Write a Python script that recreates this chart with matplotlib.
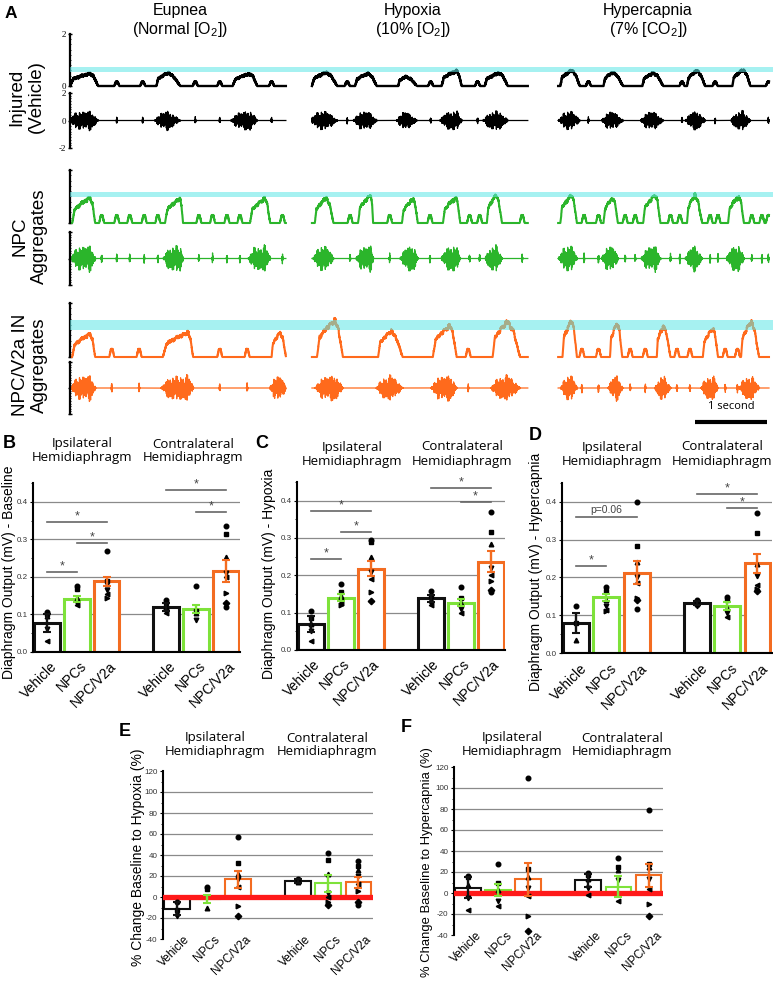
import numpy as np
import matplotlib.pyplot as plt
from matplotlib.ticker import MultipleLocator, FormatStrFormatter, NullFormatter
from matplotlib.transforms import ScaledTranslation, blended_transform_factory

plt.rcParams['font.family'] = ['Liberation Sans', 'DejaVu Sans']
plt.rcParams['mathtext.fontset'] = 'custom'
plt.rcParams['mathtext.rm'] = 'Liberation Sans'
plt.rcParams['mathtext.it'] = 'Liberation Sans:italic'

W, H = 773, 982

# ---------------- panel A: recorded traces ----------------
CONDITIONS = ['Eupnea\n(Normal [O$_2$])', 'Hypoxia\n(10% [O$_2$])', 'Hypercapnia\n(7% [CO$_2$])']
GROUPS = ['Injured\n(Vehicle)', 'NPC\nAggregates', 'NPC/V2a IN\nAggregates']
SEG_START = [0.0, 3.36, 6.78]      # seconds
SEG_LEN = [3.0, 3.0, 2.93]
TRACE_COLORS = ['#000000', '#2bb52b', '#ff6a1c']

# bursts per condition: (onset, peak, offset, integrated amplitude)
VEH_BURSTS = [
    [(0.0, 0.28, 0.39, 0.48), (1.2, 1.36, 1.53, 0.5), (2.26, 2.5, 2.6, 0.47)],
    [(0.0, 0.2, 0.35, 0.52), (0.6, 0.78, 0.9, 0.48), (1.2, 1.3, 1.46, 0.36),
     (1.8, 2.01, 2.08, 0.58), (2.4, 2.6, 2.72, 0.5)],
    [(0.03, 0.19, 0.3, 0.6), (0.63, 0.76, 0.9, 0.52), (1.17, 1.32, 1.46, 0.5),
     (1.79, 1.93, 2.04, 0.58), (2.42, 2.57, 2.67, 0.62)],
]
VEH_BLIPS = [[0.65, 1.01, 1.74, 2.08, 2.8], [0.49, 1.65, 2.3], [0.42, 1.72, 2.18, 2.92]]

NPC_BURSTS = [
    [(0.03, 0.28, 0.35, 0.95), (1.32, 1.53, 1.57, 0.92), (2.5, 2.71, 2.78, 0.92)],
    [(0.04, 0.2, 0.3, 0.95), (0.64, 0.82, 0.85, 1.05), (1.25, 1.41, 1.47, 0.9),
     (1.82, 2.0, 2.06, 0.95), (2.43, 2.56, 2.64, 1.05)],
    [(0.03, 0.19, 0.26, 1.05), (0.63, 0.76, 0.83, 0.95), (1.18, 1.35, 1.42, 1.05),
     (1.79, 1.9, 2.0, 1.05), (2.36, 2.51, 2.58, 1.0)],
]
NPC_BLIPS = [[0.44, 0.65, 0.83, 1.03, 1.22, 1.79, 1.98, 2.18, 2.36, 2.95],
             [0.53, 1.08, 1.64, 2.19, 2.33, 2.92],
             [0.36, 0.56, 0.93, 1.07, 1.56, 1.69, 2.11, 2.22, 2.69, 2.83, 2.92]]

V2A_BURSTS = [
    [(0.03, 0.28, 0.35, 0.85), (1.29, 1.64, 1.71, 0.9), (2.8, 2.92, 3.0, 0.9)],
    [(0.07, 0.32, 0.43, 1.35), (0.92, 1.1, 1.26, 0.95), (1.68, 1.92, 2.01, 1.15),
     (2.51, 2.72, 2.89, 1.3)],
    [(0.06, 0.19, 0.26, 1.35), (0.72, 0.82, 0.89, 1.25), (1.37, 1.46, 1.56, 1.15),
     (2.01, 2.15, 2.22, 1.05), (2.54, 2.68, 2.79, 1.3)],
]
V2A_BLIPS = [[0.58, 0.96, 2.08, 2.46], [2.17], [0.33, 0.56, 1.0, 1.21, 1.65, 1.83, 2.32, 2.49]]

BURSTS = [VEH_BURSTS, NPC_BURSTS, V2A_BURSTS]
BLIPS = [VEH_BLIPS, NPC_BLIPS, V2A_BLIPS]
BAND = [(0.54, 0.73), (0.98, 1.17), (1.0, 1.37)]   # cyan reference band
RAW_AMP = [0.75, 1.05, 1.05]
BLIP_INT = [0.15, 0.28, 0.28]

# fixed jagged textures for the recorded-signal look
TEXTURE = np.array([1.0, -0.55, 0.8, -0.9, 0.35, -0.7, 0.95, -0.4, 0.65, -1.0,
                    0.5, -0.85, 0.9, -0.3, 0.75, -0.6, 0.45, -0.95])
EDGE = np.array([1.0, 0.55, 0.8, 0.4, 0.95, 0.65, 0.5, 1.0, 0.7, 0.45, 0.9, 0.6, 0.75, 0.35, 0.85])
SLOW = np.array([0.2, -0.6, 0.9, -0.3, 0.5, -1.0, 0.1, 0.7, -0.5, 0.35, -0.8, 0.6])

# ---------------- panels B-F: bar data ----------------
BAR_LABELS = ['Vehicle', 'NPCs', 'NPC/V2a']
BAR_POS = [0, 1, 2, 4, 5, 6]
BAR_COLORS = ['#111111', '#7ee23a', '#f36c21']
MARKERS = ['o', 's', '^', 'v', '<', '>', 'D', 'o']

B_MEANS = [0.078, 0.140, 0.188, 0.120, 0.115, 0.215]
B_SEMS = [0.024, 0.008, 0.012, 0.010, 0.011, 0.029]
B_POINTS = [[0.107, 0.101, 0.095, 0.06, 0.03],
            [0.175, 0.168, 0.145, 0.13, 0.125],
            [0.268, 0.19, 0.18, 0.165, 0.155, 0.145],
            [0.138, 0.13, 0.12, 0.11, 0.105],
            [0.175, 0.11, 0.105, 0.085],
            [0.335, 0.315, 0.253, 0.21, 0.2, 0.158, 0.13, 0.12]]
B_SIG = [(0, 1, 0.213, '*'), (0, 2, 0.347, '*'), (1, 2, 0.29, '*'),
         (4, 6, 0.432, '*'), (5, 6, 0.373, '*')]

C_MEANS = [0.070, 0.140, 0.218, 0.138, 0.127, 0.237]
C_SEMS = [0.022, 0.010, 0.020, 0.010, 0.010, 0.028]
C_POINTS = [[0.105, 0.085, 0.07, 0.05, 0.025],
            [0.178, 0.155, 0.145, 0.13, 0.125, 0.12],
            [0.295, 0.29, 0.25, 0.21, 0.19, 0.155, 0.13],
            [0.158, 0.145, 0.135, 0.125, 0.12],
            [0.17, 0.14, 0.125, 0.11, 0.1],
            [0.37, 0.315, 0.285, 0.22, 0.2, 0.185, 0.16, 0.155]]
C_SIG = [(0, 1, 0.244, '*'), (0, 2, 0.373, '*'), (1, 2, 0.317, '*'),
         (4, 6, 0.435, '*'), (5, 6, 0.397, '*')]

D_MEANS = [0.080, 0.147, 0.213, 0.133, 0.125, 0.237]
D_SEMS = [0.026, 0.010, 0.030, 0.005, 0.010, 0.025]
D_POINTS = [[0.125, 0.08, 0.035],
            [0.175, 0.165, 0.14, 0.125, 0.115, 0.11],
            [0.4, 0.282, 0.24, 0.2, 0.185, 0.145, 0.14, 0.117],
            [0.14, 0.135, 0.13, 0.125],
            [0.148, 0.14, 0.12, 0.105, 0.095],
            [0.37, 0.318, 0.235, 0.205, 0.18, 0.17, 0.165]]
D_SIG = [(0, 1, 0.231, '*'), (0, 2, 0.36, 'p=0.06'), (4, 6, 0.42, '*'), (5, 6, 0.385, '*')]

E_MEANS = [-11, -2, 17, 15, 13, 14]
E_SEMS = [6, 4, 8, 2, 8, 5]
E_POINTS = [[-5, -12, -15, -18],
            [10, 8, -10],
            [57, 32, 22, 17, 10, -9, -18],
            [17, 15, 14],
            [42, 35, 22, 4, 0, -5, -8],
            [34, 30, 26, 20, 12, 6, -5, -8]]

F_MEANS = [5, 3, 13, 12, 6, 17]
F_SEMS = [10, 6, 16, 6, 10, 11]
F_POINTS = [[16, 15, 8, -5, -16],
            [28, 10, 3, -8, -12],
            [110, 23, 15, 5, -3, -22, -36],
            [19, 17, 13, 5, -2],
            [33, 25, 22, 12, -8],
            [79, 28, 25, 13, 4, -10, -22]]

fig = plt.figure(figsize=(W / 100, H / 100), dpi=100)


def px_axes(x0, y0, x1, y1):
    return fig.add_axes([x0 / W, 1 - y1 / H, (x1 - x0) / W, (y1 - y0) / H])


def ftext(x, y, s, **kw):
    return fig.text(x / W, 1 - y / H, s, **kw)


def held(pattern, n, hold):
    return np.resize(np.repeat(pattern, hold), n)


def integrated(t, bursts, blips, blip_amp):
    y = np.zeros_like(t)
    for on, pk, off, a in bursts:
        r = pk - on
        f = off - pk
        xs = [on, on + 0.15 * r, on + 0.55 * r, pk, pk + 0.45 * f, off]
        ys = [0, 0.55 * a, 0.8 * a, a, 0.75 * a, 0]
        y = np.maximum(y, np.interp(t, xs, ys, left=0, right=0))
    y = y * (1 + 0.07 * held(SLOW, t.size, 11))
    for b in blips:
        y = np.maximum(y, np.interp(t, [b - 0.035, b - 0.012, b + 0.012, b + 0.035],
                                    [0, blip_amp, blip_amp, 0], left=0, right=0))
    ripple = np.resize(TEXTURE, t.size) * 0.025 * (y > 0.05)
    return y + ripple


def raw(t, bursts, blips, amp):
    env = np.zeros_like(t)
    for on, pk, off, a in bursts:
        shape = np.interp(t, [on - 0.03, on + 0.2 * (off - on), pk, off + 0.01],
                          [0, 0.8 * amp, amp, 0], left=0, right=0)
        env = np.maximum(env, shape)
    env = env * held(EDGE, t.size, 9)
    for b in blips:
        env = np.maximum(env, np.interp(t, [b - 0.01, b, b + 0.01], [0, 0.4 * amp, 0], left=0, right=0))
    return env * np.resize(TEXTURE, t.size)


# ---------------- panel A ----------------
INT_BOX = [(34, 86), (170, 223), (303, 357)]   # pixel rows of y=2 and y=0
RAW_BOX = [(93, 148), (232, 285), (362, 414)]
XMAX = (W - 70) / 72.0

for g in range(3):
    top, zero = INT_BOX[g]
    ppu = (zero - top) / 2.0
    ax_i = px_axes(70, top, W, zero + 0.15 * ppu)
    ax_i.set_ylim(-0.15, 2)
    rt, rb = RAW_BOX[g]
    ax_r = px_axes(70, rt, W, rb)
    ax_r.set_ylim(-2, 2)
    for k in range(3):
        t = np.arange(0, SEG_LEN[k], 0.002)
        x = SEG_START[k] + t
        ax_i.plot(x, integrated(t, BURSTS[g][k], BLIPS[g][k], BLIP_INT[g]),
                  color=TRACE_COLORS[g], lw=1.7 if g == 0 else 1.5, zorder=2)
        ax_r.plot(x, raw(t, BURSTS[g][k], BLIPS[g][k], RAW_AMP[g]),
                  color=TRACE_COLORS[g], lw=0.9, zorder=2)
    ax_i.axhspan(BAND[g][0], BAND[g][1], color='#5ee6e6', alpha=0.55, lw=0, zorder=3)
    for ax, lo, hi in [(ax_i, 0, 2), (ax_r, -2, 2)]:
        ax.set_xlim(0, XMAX)
        for s in ['top', 'right', 'bottom']:
            ax.spines[s].set_visible(False)
        ax.spines['left'].set_bounds(lo, hi)
        ax.spines['left'].set_linewidth(1.6)
        ax.set_xticks([])
        ax.set_yticks([lo, 0, hi] if lo < 0 else [lo, hi])
        ax.yaxis.set_minor_locator(MultipleLocator(0.2))
        ax.tick_params(axis='y', which='major', length=3, width=1, direction='inout', pad=1)
        ax.tick_params(axis='y', which='minor', length=2, width=0.6, direction='inout')
        if g == 0:
            ax.set_yticklabels([str(v) for v in ax.get_yticks().astype(int)],
                               fontsize=6.5, family='Liberation Serif')
        else:
            ax.yaxis.set_major_formatter(NullFormatter())
        ax.patch.set_visible(False)
    if g == 2:
        tr = blended_transform_factory(ax_r.transData, ax_r.transAxes)
        bar_x0 = (695 - 70) / 72.0
        ax_r.plot([bar_x0, bar_x0 + 1], [-0.15, -0.15], color='k', lw=3, transform=tr,
                  clip_on=False, solid_capstyle='butt')
        ax_r.text(bar_x0 + 0.5, 0.03, '1 second', transform=tr, ha='center', va='bottom',
                  fontsize=8, family='Open Sans')

ftext(5, 14, 'A', fontsize=12.5, fontweight='bold', va='center')
for cx, s in zip([180, 413, 648], CONDITIONS):
    ftext(cx, 21, s, fontsize=11.5, ha='center', va='center')
for cy, cx, s in zip([97, 236, 365], [27, 30, 30], GROUPS):
    ftext(cx, cy, s, fontsize=13.5, rotation=90, ha='center', va='center')


# ---------------- bar panels ----------------
def bar_panel(box, means, sems, points, ylim, edge_lw, label_fs, label_off, ytick_step, ytick_fmt,
              grid, bottom_spine, ylabel, ylabel_xy, ylabel_fs):
    x0, y0, x1, y1 = box
    ax = px_axes(x0, y0, x1, y1)
    ax.set_xlim(-0.47, 6.48)
    ax.set_ylim(*ylim)
    for gv in grid:
        ax.axhline(gv, color='#8a8a8a', lw=0.9, zorder=1)
    for i, (p, m, s, pts) in enumerate(zip(BAR_POS, means, sems, points)):
        c = BAR_COLORS[i % 3]
        ax.bar(p, m, width=0.86, facecolor='white', edgecolor=c, linewidth=edge_lw, zorder=2)
        for j, v in enumerate(pts):
            ax.plot(p, v, marker=MARKERS[j % len(MARKERS)], color='k', ms=3.3, ls='none', zorder=4)
        ax.errorbar(p, m, yerr=s, fmt='none', ecolor=c, elinewidth=1.7, capsize=2.8,
                    capthick=1.5, zorder=5)
    for s in ['top', 'right']:
        ax.spines[s].set_visible(False)
    ax.spines['left'].set_linewidth(1.5)
    if bottom_spine:
        ax.spines['bottom'].set_linewidth(1.5)
    else:
        ax.spines['bottom'].set_visible(False)
    ax.set_xticks([])
    ax.yaxis.set_major_locator(MultipleLocator(ytick_step))
    ax.yaxis.set_minor_locator(MultipleLocator(ytick_step / 2))
    ax.yaxis.set_major_formatter(FormatStrFormatter(ytick_fmt))
    ax.tick_params(axis='y', which='major', labelsize=5.8, length=2.5, width=0.8, pad=1.5,
                   labelcolor='#333333')
    ax.tick_params(axis='y', which='minor', length=1.5, width=0.6)
    dx, dy = label_off
    off = ax.transData + ScaledTranslation(0, dy / 100, fig.dpi_scale_trans)
    for i, p in enumerate(BAR_POS):
        ax.text(p + dx, ylim[0], BAR_LABELS[i % 3], transform=off, rotation=45,
                rotation_mode='anchor', ha='right', va='center', fontsize=label_fs)
    ftext(ylabel_xy[0], ylabel_xy[1], ylabel, rotation=90, ha='center', va='center',
          fontsize=ylabel_fs)
    return ax


def sig_lines(ax, sigs):
    for a, b, y, s in sigs:
        ax.plot([a, b], [y, y], color='#666666', lw=1.2, zorder=3)
        fs = 9 if s == '*' else 7.5
        ax.annotate(s, ((a + b) / 2, y), xytext=(0, 4 if s == '*' else 5), textcoords='offset points',
                    ha='center', va='center', fontsize=fs, color='#444444')


def titles(x_ipsi, x_contra, y, fs=9.5):
    ftext(x_ipsi, y, 'Ipsilateral\nHemidiaphragm', ha='center', va='center', fontsize=fs,
          family='Open Sans', linespacing=1.1)
    ftext(x_contra, y, 'Contralateral\nHemidiaphragm', ha='center', va='center', fontsize=fs,
          family='Open Sans', linespacing=1.1)


grid_bcd = [0.1, 0.2, 0.3, 0.4]
ax_b = bar_panel((33, 483, 240, 652), B_MEANS, B_SEMS, B_POINTS, (0, 0.45), 2.2, 10, (0.25, -12),
                 0.1, '%.1f', grid_bcd, True, 'Diaphragm Output (mV) - Baseline', (9, 572), 10)
sig_lines(ax_b, B_SIG)
ax_c = bar_panel((297, 482, 505, 650), C_MEANS, C_SEMS, C_POINTS, (0, 0.45), 2.2, 10, (0.22, -12),
                 0.1, '%.1f', grid_bcd, True, 'Diaphragm Output (mV) - Hypoxia', (269, 574), 10)
sig_lines(ax_c, C_SIG)
ax_d = bar_panel((562, 483, 772, 653), D_MEANS, D_SEMS, D_POINTS, (0, 0.45), 2.2, 10, (0.28, -13),
                 0.1, '%.1f', grid_bcd, True, 'Diaphragm Output (mV) - Hypercapnia', (536, 572), 10)
sig_lines(ax_d, D_SIG)

grid_ef = [-20, 20, 40, 60, 80, 100]
ax_e = bar_panel((163, 771, 373, 939), E_MEANS, E_SEMS, E_POINTS, (-40, 120), 1.5, 8.6, (0.36, 1),
                 20, '%d', grid_ef, False, '% Change Baseline to Hypoxia (%)', (138, 857), 10)
ax_e.axhline(0, color='#ff1a1a', lw=3.8, zorder=3)
ax_f = bar_panel((454, 767, 663, 935), F_MEANS, F_SEMS, F_POINTS, (-40, 120), 1.5, 8.6, (0.38, 1),
                 20, '%d', grid_ef, False, '% Change Baseline to Hypercapnia (%)', (427, 862), 9.4)
ax_f.axhline(0, color='#ff1a1a', lw=3.8, zorder=3)

titles(82, 193, 451)
titles(352, 462, 454)
titles(612, 722, 454)
titles(215, 327, 745)
titles(512, 622, 745)

for x, y, s in [(9, 443, 'B'), (262, 443, 'C'), (535, 436, 'D'), (125, 731, 'E'), (406, 728, 'F')]:
    ftext(x, y, s, fontsize=13, fontweight='bold', ha='center', va='center')

fig.savefig('out.png', dpi=100)
